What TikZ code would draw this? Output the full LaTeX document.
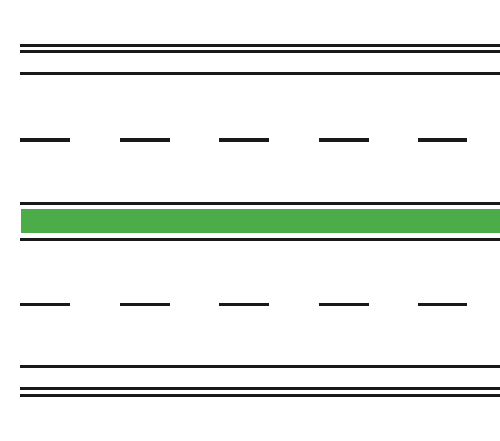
\documentclass[tikz,border=0pt]{standalone}
\definecolor{lanegreen}{RGB}{76,172,74}
\tikzset{
  roadline/.style={draw=black!90, line width=2.8pt},
  dashline/.style={draw=black!90, line width=3.2pt, dash pattern=on 50pt off 49.5pt},
  greenband/.style={draw=none, fill=lanegreen}
}
\begin{document}
\begin{tikzpicture}[x=1pt,y=1pt]
\useasboundingbox (0,0) rectangle (500,440);
% top double + single
\coordinate (t1a) at (20,394.6); \coordinate (t1b) at (500,394.6);
\coordinate (t2a) at (20,388.4); \coordinate (t2b) at (500,388.4);
\coordinate (t3a) at (20,366.2); \coordinate (t3b) at (500,366.2);
\draw[roadline] (t1a) -- (t1b);
\draw[roadline] (t2a) -- (t2b);
\draw[roadline] (t3a) -- (t3b);
% dashed upper
\coordinate (d1a) at (20,300); \coordinate (d1b) at (467,300);
\draw[dashline] (d1a) -- (d1b);
% green median
\coordinate (m1a) at (20,236.7); \coordinate (m1b) at (500,236.7);
\coordinate (m2a) at (20,200.8); \coordinate (m2b) at (500,200.8);
\draw[roadline] (m1a) -- (m1b);
\draw[roadline] (m2a) -- (m2b);
\path[greenband] (21,206.8) rectangle (500,230.8);
% dashed lower
\coordinate (d2a) at (20,135.3); \coordinate (d2b) at (467,135.3);
\draw[dashline] (d2a) -- (d2b);
% bottom single + double
\coordinate (b1a) at (20,73.5); \coordinate (b1b) at (500,73.5);
\coordinate (b2a) at (20,51.2); \coordinate (b2b) at (500,51.2);
\coordinate (b3a) at (20,44.8); \coordinate (b3b) at (500,44.8);
\draw[roadline] (b1a) -- (b1b);
\draw[roadline] (b2a) -- (b2b);
\draw[roadline] (b3a) -- (b3b);
\end{tikzpicture}
\end{document}
